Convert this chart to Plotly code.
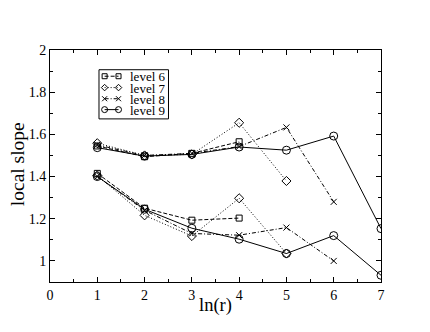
import plotly.graph_objects as go

# ln(r) positions
x_upper_6 = [1, 2, 3, 4]
x_upper_7 = [1, 2, 3, 4, 5]
x_upper_8 = [1, 2, 3, 4, 5, 6]
x_upper_9 = [1, 2, 3, 4, 5, 6, 7]

# local slope, upper branch
level6_upper = [1.545, 1.494, 1.510, 1.565]
level7_upper = [1.558, 1.500, 1.505, 1.655, 1.379]
level8_upper = [1.550, 1.500, 1.510, 1.542, 1.633, 1.280]
level9_upper = [1.537, 1.497, 1.505, 1.540, 1.525, 1.592, 1.153]

# local slope, lower branch
level6_lower = [1.415, 1.250, 1.193, 1.203]
level7_lower = [1.405, 1.216, 1.118, 1.297, 1.035]
level8_lower = [1.400, 1.240, 1.130, 1.122, 1.158, 1.000]
level9_lower = [1.400, 1.245, 1.155, 1.103, 1.035, 1.120, 0.932]

level_names = ["level 6", "level 7", "level 8", "level 9"]

series = [
    (x_upper_6, level6_upper, level6_lower, "square-open", 6, "4px,2px"),
    (x_upper_7, level7_upper, level7_lower, "diamond-open", 7, "1px,2px"),
    (x_upper_8, level8_upper, level8_lower, "x-thin-open", 6, "4px,2px,1px,2px"),
    (x_upper_9, level9_upper, level9_lower, "circle-open", 8, "solid"),
]

SERIF = "Liberation Serif, Times New Roman, serif"

fig = go.Figure()
for name, (xs, up, low, sym, size, dash) in zip(level_names, series):
    for ys in (up, low):
        fig.add_trace(go.Scatter(
            x=xs, y=ys, name=name, showlegend=False,
            mode="lines+markers",
            line=dict(color="black", width=1, dash=dash),
            marker=dict(symbol=sym, size=size, color="black",
                        line=dict(color="black", width=1)),
        ))

# hand-made compact legend (fractions of the plot area)
leg_rows = [0.887, 0.838, 0.790, 0.743]
for name, row, (xs, up, low, sym, size, dash) in zip(level_names, leg_rows, series):
    fig.add_trace(go.Scatter(
        x=[0.165, 0.207], y=[row, row], xaxis="x2", yaxis="y2",
        mode="lines+markers", showlegend=False, hoverinfo="skip",
        line=dict(color="black", width=1, dash=dash),
        marker=dict(symbol=sym, size=max(size - 2, 5), color="black",
                    line=dict(color="black", width=1)),
    ))
    fig.add_annotation(x=0.238, y=row, xref="paper", yref="paper",
                       text=name, showarrow=False, xanchor="left", yanchor="middle",
                       height=10, borderpad=0, valign="middle",
                       font=dict(family=SERIF, size=13, color="black"))
fig.add_shape(type="rect", xref="paper", yref="paper",
              x0=0.148, x1=0.358, y0=0.703, y1=0.915,
              line=dict(color="black", width=1), layer="above")

# axis titles
fig.add_annotation(x=0.5015, y=-0.103, xref="paper", yref="paper", text="ln(r)",
                   showarrow=False, xanchor="center", yanchor="middle",
                   font=dict(family=SERIF, size=18.5, color="black"))
fig.add_annotation(x=-0.098, y=0.506, xref="paper", yref="paper", text="local slope",
                   showarrow=False, xanchor="center", yanchor="middle", textangle=-90,
                   font=dict(family=SERIF, size=19.5, color="black"))

axis_common = dict(
    showgrid=False, zeroline=False, showline=True, linecolor="black",
    linewidth=1, mirror="ticks", ticks="inside", ticklen=5, tickcolor="black",
    automargin=False,
    tickfont=dict(family=SERIF, size=14, color="black"),
)

# page body adds 8px, so the figure is a bit smaller and shifted
fig.update_layout(
    width=422, height=324,
    paper_bgcolor="white", plot_bgcolor="white",
    margin=dict(l=41.5, r=48.5, t=42, b=50),
    font=dict(family=SERIF, color="black"),
    xaxis=dict(
        range=[0, 7], dtick=1, tick0=0,
        minor=dict(ticks="inside", ticklen=3, dtick=0.5, tickcolor="black"),
        **axis_common,
    ),
    yaxis=dict(
        range=[0.9, 2], tickvals=[1, 1.2, 1.4, 1.6, 1.8, 2],
        minor=dict(ticks="inside", ticklen=3, tickvals=[1.1, 1.3, 1.5, 1.7, 1.9], tickcolor="black"),
        **axis_common,
    ),
    xaxis2=dict(overlaying="x", range=[0, 1], visible=False, anchor="y2"),
    yaxis2=dict(overlaying="y", range=[0, 1], visible=False, anchor="x2"),
    showlegend=False,
)

fig.write_html("out.html")
